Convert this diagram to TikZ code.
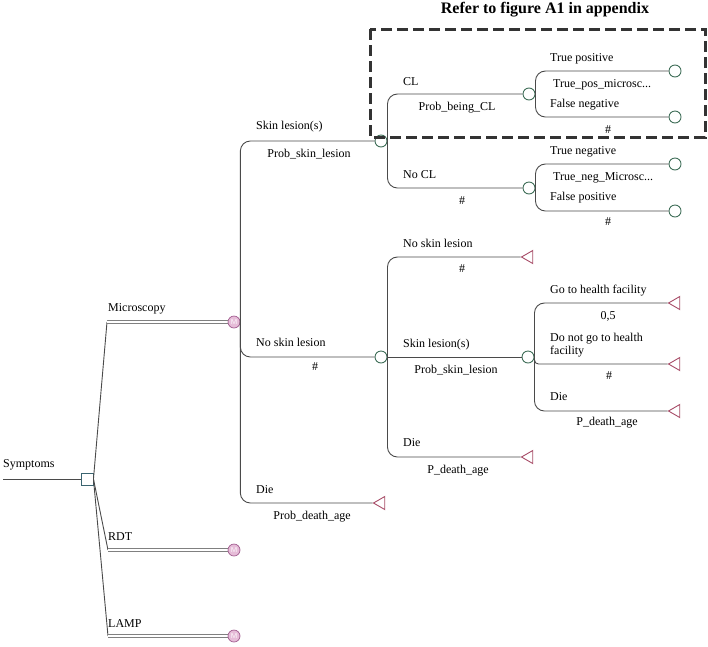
\documentclass[tikz,border=0pt]{standalone}
\usepackage{fontspec}
\setmainfont{Liberation Serif}
\usetikzlibrary{shapes.geometric}

\definecolor{linegray}{HTML}{4A4A4A}
\definecolor{chancegreen}{HTML}{3F6E58}
\definecolor{termred}{HTML}{A84D68}
\definecolor{markovpink}{HTML}{E6BCD8}
\definecolor{markovedge}{HTML}{A05A8E}
\definecolor{decisionteal}{HTML}{3A6470}

\tikzset{
  branch/.style={draw=linegray, line width=0.9pt, rounded corners=10pt},
  strategy/.style={draw=white, line width=1.2pt, preaction={draw=linegray!70, line width=3.2pt}},
  decision/.style={rectangle, draw=decisionteal, fill=white, minimum size=12pt, inner sep=0pt, line width=0.9pt},
  chance/.style={circle, draw=chancegreen, fill=white, minimum size=12pt, inner sep=0pt, line width=0.9pt},
  terminal/.style={regular polygon, regular polygon sides=3, shape border rotate=90, draw=termred, fill=white, minimum size=15pt, inner sep=0pt, line width=0.9pt},
  markov/.style={circle, draw=markovedge, fill=markovpink, minimum size=12pt, inner sep=0pt, line width=0.7pt, text=white, font=\fontsize{7}{7}\selectfont\sffamily},
  lbl/.style={anchor=west, text height=8pt, text depth=2.5pt, inner sep=0pt},
  prob/.style={anchor=center, text height=8pt, text depth=2.5pt, inner sep=0pt},
}

\begin{document}
\begin{tikzpicture}[x=1pt, y=-1pt, font=\fontsize{12}{13}\selectfont]
    \useasboundingbox (0,0) rectangle (708,646);
    % root: decision node
    \coordinate (root) at (3,479);
    \node[decision] (sym) at (87,479) {};
    \node[lbl] (symlbl) at (3,465) {Symptoms};
    \draw[branch] (root) -- (sym.west);
    % strategies
    \coordinate (mi) at (107,322);
    \coordinate (rd) at (108,550);
    \coordinate (la) at (108,636);
    \draw[branch, rounded corners=4pt] (sym.east) -- (mi);
    \draw[branch, rounded corners=4pt] (sym.east) -- (rd);
    \draw[branch, rounded corners=4pt] (sym.east) -- (la);
    \draw[strategy] (mi) -- (228,322);
    \draw[strategy] (rd) -- (228,550);
    \draw[strategy] (la) -- (228,636);
    \node[markov] (micro) at (234,322) {M};
    \node[markov] (rdt) at (234,550) {M};
    \node[markov] (lamp) at (234,636) {M};
    \node[lbl] at (108,309) {Microscopy};
    \node[lbl] at (108,538) {RDT};
    \node[lbl] at (108,625) {LAMP};
    % microscopy: first chance level
    \node[chance] (c1) at (381,141) {};
    \node[chance] (c2) at (381,357) {};
    \node[terminal] (e1) at (381,503) {};
    \draw[branch] (micro.east) |- (c1.west);
    \draw[branch] (micro.east) |- (c2.west);
    \draw[branch] (micro.east) |- (e1.west);
    \node[lbl] at (256,127) {Skin lesion(s)};
    \node[prob] at (309,155) {Prob\_skin\_lesion};
    \node[lbl] at (256,344) {No skin lesion};
    \node[prob] at (315,368) {\#};
    \node[lbl] at (256,491) {Die};
    \node[prob] at (312,517) {Prob\_death\_age};
    % skin lesion: CL / no CL
    \node[chance] (c11) at (529,94) {};
    \node[chance] (c12) at (529,188) {};
    \draw[branch] (c1.east) |- (c11.west);
    \draw[branch] (c1.east) |- (c12.west);
    \node[lbl] at (403,83) {CL};
    \node[prob] at (457,108) {Prob\_being\_CL};
    \node[lbl] at (403,176) {No CL};
    \node[prob] at (462,202) {\#};
    % test results
    \node[chance] (t1) at (675,71) {};
    \node[chance] (t2) at (675,117) {};
    \node[chance] (t3) at (675,164) {};
    \node[chance] (t4) at (675,211) {};
    \draw[branch] (c11.east) |- (t1.west);
    \draw[branch] (c11.east) |- (t2.west);
    \draw[branch] (c12.east) |- (t3.west);
    \draw[branch] (c12.east) |- (t4.west);
    \node[lbl] at (550,59) {True positive};
    \node[lbl] at (553,85) {True\_pos\_microsc...};
    \node[lbl] at (550,105) {False negative};
    \node[prob] at (608,131) {\#};
    \node[lbl] at (550,152) {True negative};
    \node[lbl] at (553,178) {True\_neg\_Microsc...};
    \node[lbl] at (550,198) {False positive};
    \node[prob] at (608,223) {\#};
    % no skin lesion: second chance level
    \node[terminal] (e2) at (529,257) {};
    \node[chance] (c22) at (528,357) {};
    \node[terminal] (e3) at (529,457) {};
    \draw[branch] (c2.east) |- (e2.west);
    \draw[branch] (c2.east) -- (c22.west);
    \draw[branch] (c2.east) |- (e3.west);
    \node[lbl] at (403,245) {No skin lesion};
    \node[prob] at (462,270) {\#};
    \node[lbl] at (403,345) {Skin lesion(s)};
    \node[prob] at (456,371) {Prob\_skin\_lesion};
    \node[lbl] at (403,444) {Die};
    \node[prob] at (458,471) {P\_death\_age};
    % care seeking
    \node[terminal] (e4) at (676,303) {};
    \node[terminal] (e5) at (676,364) {};
    \node[terminal] (e6) at (676,411) {};
    \draw[branch] (c22.east) |- (e4.west);
    \draw[branch, rounded corners=4pt] (c22.east) |- (e5.west);
    \draw[branch] (c22.east) |- (e6.west);
    \node[lbl] at (550,291) {Go to health facility};
    \node[prob] at (608,317) {0,5};
    \node[lbl, align=left] at (550,352) {Do not go to health\\[0.5pt]facility};
    \node[prob] at (609,377) {\#};
    \node[lbl] at (550,398) {Die};
    \node[prob] at (607,423) {P\_death\_age};
    % appendix box
    \draw[line width=3pt, draw=black!80, dash pattern=on 11pt off 5pt] (370,29) rectangle (705,137);
    \node[prob, text height=11.5pt, text depth=3.5pt, font=\fontsize{16}{17}\selectfont\bfseries] (ref) at (545,9) {Refer to figure A1 in appendix};
\end{tikzpicture}
\end{document}
